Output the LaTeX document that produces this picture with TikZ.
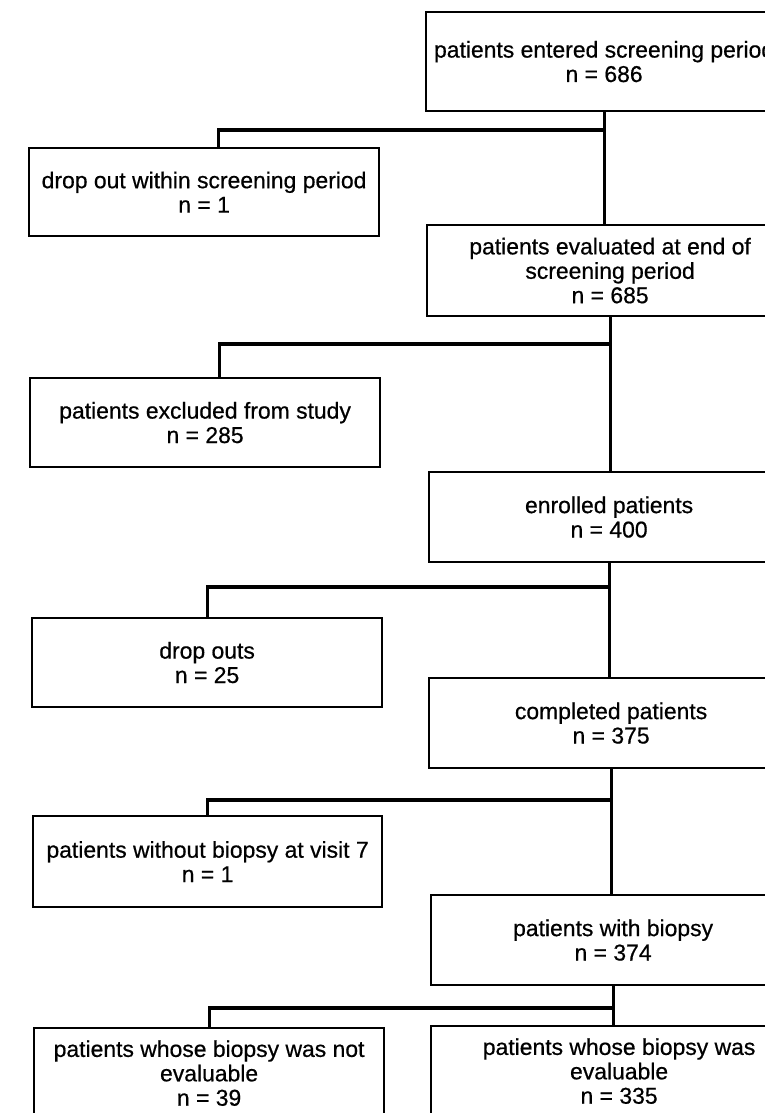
\documentclass[tikz,border=0pt]{standalone}
\usepackage{fontspec}
\setmainfont{Liberation Sans}[FakeBold=0.6]
\usetikzlibrary{calc}
\begin{document}
\begin{tikzpicture}[x=1bp,y=-1bp,
  box/.style={draw, line width=2.2bp, align=center, inner sep=0pt,
              font=\fontsize{23}{24.5}\selectfont, anchor=north west},
  link/.style={line width=3.2bp, line join=miter}]
\useasboundingbox (0,0) rectangle (765,1113);
\fill[white] (0,0) rectangle (765,1113);
\clip (0,0) rectangle (765,1113);
% right column
\node[box, minimum width=356bp, minimum height=99bp] (r1) at (425,11)
  {patients entered screening period\\n = 686};
\node[box, minimum width=366bp, minimum height=91bp] (r2) at (426,224)
  {patients evaluated at end of\\screening period\\n = 685};
\node[box, minimum width=360bp, minimum height=90bp] (r3) at (428,471)
  {enrolled patients\\n = 400};
\node[box, minimum width=364bp, minimum height=90bp] (r4) at (428,677)
  {completed patients\\n = 375};
\node[box, minimum width=364bp, minimum height=90bp] (r5) at (430,894)
  {patients with biopsy\\n = 374};
\node[box, minimum width=376bp, minimum height=90bp] (r6) at (430,1025)
  {patients whose biopsy was\\evaluable\\n = 335};
% left column
\node[box, minimum width=350bp, minimum height=88bp] (l1) at (28,147)
  {drop out within screening period\\n = 1};
\node[box, minimum width=350bp, minimum height=89bp] (l2) at (29,377)
  {patients excluded from study\\n = 285};
\node[box, minimum width=350bp, minimum height=89bp] (l3) at (31,617)
  {drop outs\\n = 25};
\node[box, minimum width=349bp, minimum height=91bp] (l4) at (32,815)
  {patients without biopsy at visit 7\\n = 1};
\node[box, minimum width=350bp, minimum height=90bp] (l5) at (33,1027)
  {patients whose biopsy was not\\evaluable\\n = 39};
% junctions
\coordinate (j1) at (r1.south |- 0,130);
\coordinate (j2) at (r2.south |- 0,344);
\coordinate (j3) at (r3.south |- 0,587);
\coordinate (j4) at (r4.south |- 0,800);
\coordinate (j5) at (r5.south |- 0,1008);
% trunk
\draw[link] (r1.south) -- (r1.south |- r2.north);
\draw[link] (r2.south) -- (r2.south |- r3.north);
\draw[link] (r3.south) -- (r3.south |- r4.north);
\draw[link] (r4.south) -- (r4.south |- r5.north);
\draw[link] (r5.south) -- (r5.south |- r6.north);
% branches
\draw[link] (j1) -| ([xshift=14bp]l1.north);
\draw[link] (j2) -| ([xshift=14bp]l2.north);
\draw[link] (j3) -| (l3.north);
\draw[link] (j4) -| (l4.north);
\draw[link] (j5) -| (l5.north);
\end{tikzpicture}
\end{document}
